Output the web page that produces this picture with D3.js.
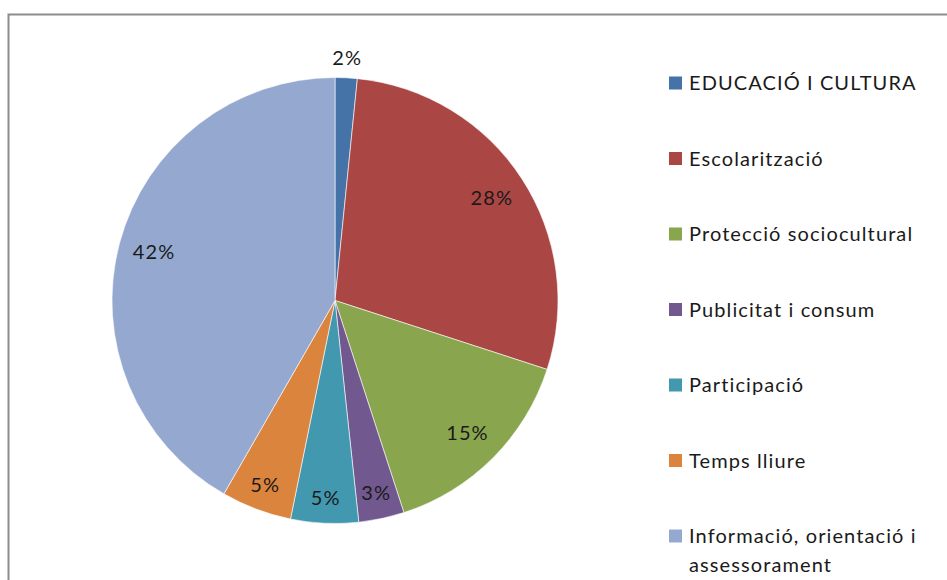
<!DOCTYPE html>
<html><head><meta charset="utf-8">
<script src="https://cdn.jsdelivr.net/npm/d3@7"></script>
<style>
html,body{margin:0;padding:0;background:#fff;}
svg{display:block;font-family:Lato,"Open Sans",sans-serif;}
</style></head>
<body>
<svg id="chart" width="947" height="580"></svg>
<script>
const categories = ["EDUCACIÓ I CULTURA","Escolarització","Protecció sociocultural","Publicitat i consum","Participació","Temps lliure","Informació, orientació i assessorament"];
const values = [1.6, 28.4, 15.0, 3.3, 4.9, 5.1, 41.7];
const colors = ["#4572A7","#AA4643","#89A54E","#71588F","#4198AF","#DB843D","#95A9D0"];
const legendLines = [["EDUCACIÓ I CULTURA"],["Escolarització"],["Protecció sociocultural"],["Publicitat i consum"],["Participació"],["Temps lliure"],["Informació, orientació i","assessorament"]];

const svg = d3.select("#chart");
const W = 947, H = 580;
const fontSize = 20;
const spacing = 1.1;

// border
svg.append("rect").attr("x",8.5).attr("y",14.5).attr("width",W+10).attr("height",H+10)
  .attr("fill","#fff").attr("stroke","#8c8c8c").attr("stroke-width",2);

const cx = 335, cy = 300.5, R = 223;
const total = d3.sum(values);
const pie = d3.pie().sort(null).value(d=>d)(values);
const arc = d3.arc().innerRadius(0).outerRadius(R);
const g = svg.append("g").attr("transform",`translate(${cx},${cy})`);
g.selectAll("path").data(pie).join("path")
  .attr("d",arc).attr("fill",(d,i)=>colors[i])
  .attr("stroke","#fff").attr("stroke-width",0.6);

const fmt = d3.format(".0%");
g.selectAll("text.lbl").data(pie).join("text").attr("class","lbl")
  .attr("transform",d=>{
    const share = d.value/total;
    const lr = share < 0.02 ? R+20 : (share < 0.06 ? R*0.885 : R*0.84);
    const a = (d.startAngle+d.endAngle)/2;
    return `translate(${lr*Math.sin(a)},${-lr*Math.cos(a)})`;
  })
  .attr("text-anchor","middle").attr("dy","0.35em")
  .attr("font-size",fontSize).attr("letter-spacing",spacing).attr("fill","#1a1a1a")
  .text(d=>fmt(d.value/total));

// legend
const ly = d3.scalePoint().domain(categories).range([83,536]);
const leg = svg.append("g");
categories.forEach((c,i)=>{
  const y = ly(c);
  leg.append("rect").attr("x",669).attr("y",y-6.5).attr("width",13).attr("height",13).attr("fill",colors[i]);
  const t = leg.append("text").attr("x",689).attr("y",y)
    .attr("font-size",fontSize).attr("letter-spacing",spacing).attr("fill","#1a1a1a");
  legendLines[i].forEach((ln,j)=>{
    t.append("tspan").attr("x",689).attr("dy", j===0 ? "0.35em" : 29).text(ln);
  });
});
</script>
</body></html>
